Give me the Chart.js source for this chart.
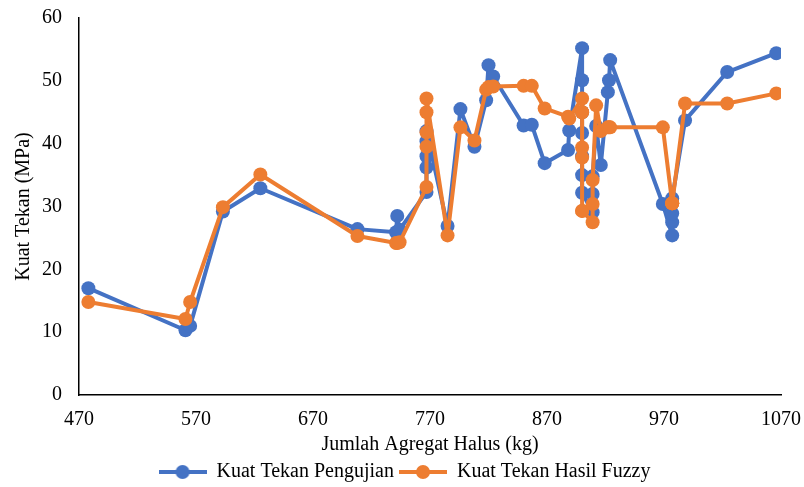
<!DOCTYPE html>
<html>
<head>
<meta charset="utf-8">
<script src="https://cdn.jsdelivr.net/npm/chart.js@4.4.0/dist/chart.umd.min.js"></script>
<style>
  html, body { margin: 0; padding: 0; background: #fff; }
</style>
</head>
<body>
<canvas id="kuatTekan" width="804" height="487"></canvas>
<script>
// jumlah agregat halus (kg), shared by both series
const agregatHalus = [
  478, 561, 565, 593, 625, 708, 741, 742, 744,
  767, 767, 767, 767, 767, 785, 796, 808, 818, 820, 824,
  850, 857, 868, 888, 889,
  900, 900, 900, 900, 900, 900, 900,
  909, 909, 909, 912, 916, 922, 923, 924,
  969, 977, 977, 977, 977, 988, 1024, 1066
];
const kuatPengujian = [
  17.0, 10.3, 11.0, 29.2, 32.9, 26.4, 25.9, 28.5, 26.3,
  32.3, 36.2, 38.0, 40.4, 42.0, 26.9, 45.5, 39.5, 46.9, 52.5, 50.7,
  42.9, 43.0, 36.9, 39.0, 42.1,
  55.2, 50.1, 45.0, 41.7, 38.0, 35.0, 32.2,
  29.1, 32.0, 34.8, 42.8, 36.6, 48.2, 50.1, 53.3,
  30.4, 25.4, 27.5, 28.9, 31.3, 43.7, 51.4, 54.4
];
const kuatFuzzy = [
  14.8, 12.1, 14.8, 29.9, 35.1, 25.3, 24.2, 24.2, 24.3,
  33.1, 39.5, 41.8, 45.0, 47.2, 25.4, 42.6, 40.5, 48.6, 49.0, 49.1,
  49.2, 49.2, 45.6, 44.3, 44.0,
  47.2, 45.0, 45.0, 39.4, 37.8, 29.3, 29.3,
  27.5, 30.4, 34.2, 46.1, 42.0, 42.6, 42.6, 42.6,
  42.6, 30.5, 30.5, 30.5, 30.5, 46.4, 46.4, 48.0
];
const xTicks = [470, 570, 670, 770, 870, 970, 1070];
const yTicks = [0, 10, 20, 30, 40, 50, 60];

const seriesNames = ['Kuat Tekan Pengujian', 'Kuat Tekan Hasil Fuzzy'];
const blue = '#4472C4';
const orange = '#ED7D31';
const fontFamily = '"Liberation Serif", "Times New Roman", serif';
const fontSize = 20;

const toPoints = (ys) => agregatHalus.map((x, i) => ({ x: x, y: ys[i] }));

// legend sample: line with marker in the middle, like Excel
const legendMarker = (color) => {
    const c = document.createElement('canvas');
    c.width = 48;
    c.height = 16;
    const g = c.getContext('2d');
    g.strokeStyle = color;
    g.lineWidth = 4;
    g.beginPath();
    g.moveTo(0, 8);
    g.lineTo(48, 8);
    g.stroke();
    g.fillStyle = color;
    g.beginPath();
    g.arc(24, 8, 7, 0, 2 * Math.PI);
    g.fill();
    return c;
};

const makeDataset = (label, ys, color, order) => ({
    label: label,
    data: toPoints(ys),
    showLine: true,
    borderColor: color,
    backgroundColor: color,
    borderWidth: 4,
    borderJoinStyle: 'round',
    borderCapStyle: 'round',
    pointRadius: 7,
    pointBorderWidth: 0,
    pointHoverRadius: 7,
    order: order,
});

// Excel puts the legend a bit right of the canvas centre
const legendShift = {
    id: 'legendShift',
    afterLayout(chart) {
        chart.legend.left += 28;
    }
};

new Chart(document.getElementById('kuatTekan'), {
    type: 'scatter',
    data: {
        datasets: [
            makeDataset(seriesNames[0], kuatPengujian, blue, 2),
            makeDataset(seriesNames[1], kuatFuzzy, orange, 1),
        ]
    },
    plugins: [legendShift],
    options: {
        responsive: false,
        animation: false,
        devicePixelRatio: 1,
        layout: { padding: { left: 0, right: 23, top: 18, bottom: -5 } },
        plugins: {
            tooltip: { enabled: false },
            legend: {
                position: 'bottom',
                labels: {
                    usePointStyle: true,
                    pointStyleWidth: 48,
                    padding: 5,
                    color: '#000',
                    font: { family: fontFamily, size: fontSize },
                    generateLabels: (chart) => chart.data.datasets.map((ds, i) => ({
                        text: ds.label,
                        pointStyle: legendMarker(ds.borderColor),
                        fillStyle: ds.borderColor,
                        strokeStyle: ds.borderColor,
                        lineWidth: 0,
                        hidden: !chart.isDatasetVisible(i),
                        datasetIndex: i,
                        fontColor: '#000',
                    })),
                },
            },
        },
        scales: {
            x: {
                type: 'linear',
                min: xTicks[0],
                max: xTicks[xTicks.length - 1],
                // tick marks are hidden, tickLength only spaces the labels
                grid: { display: false, drawTicks: true, tickLength: 13 },
                border: { display: true, color: '#000', width: 1.5 },
                afterFit: (scale) => { scale.height = 62; },
                afterBuildTicks: (scale) => { scale.ticks = xTicks.map(v => ({ value: v })); },
                ticks: {
                    padding: 0,
                    color: '#000',
                    font: { family: fontFamily, size: fontSize },
                    callback: (v) => String(v),
                },
                title: {
                    display: true,
                    text: 'Jumlah Agregat Halus (kg)',
                    color: '#000',
                    padding: { top: 0, bottom: 0 },
                    font: { family: fontFamily, size: fontSize },
                },
            },
            y: {
                min: yTicks[0],
                max: yTicks[yTicks.length - 1],
                grid: { display: false, drawTicks: true, tickLength: 12 },
                border: { display: true, color: '#000', width: 1.5 },
                afterFit: (scale) => { scale.width = 79; },
                afterBuildTicks: (scale) => { scale.ticks = yTicks.map(v => ({ value: v })); },
                ticks: {
                    padding: 5,
                    color: '#000',
                    font: { family: fontFamily, size: fontSize },
                    callback: (v) => String(v),
                },
                title: {
                    display: true,
                    text: 'Kuat Tekan (MPa)',
                    color: '#000',
                    padding: { top: 12, bottom: 0 },
                    font: { family: fontFamily, size: fontSize },
                },
            },
        },
    },
});
</script>
</body>
</html>
